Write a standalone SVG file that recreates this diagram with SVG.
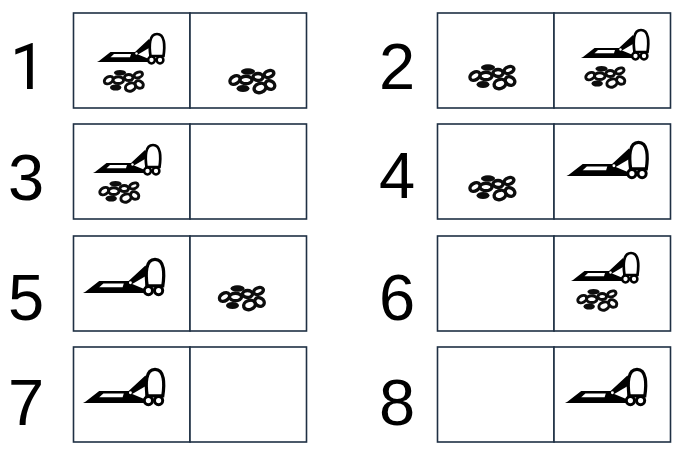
<svg xmlns="http://www.w3.org/2000/svg" width="684" height="454" viewBox="0 0 684 454">
<style>
text{font-family:"Liberation Sans",Arial,sans-serif;font-size:65px;fill:#000}
.one{font-family:Roboto,"Liberation Sans",sans-serif;font-size:64px}
.b{fill:#fff;stroke:#1f3044;stroke-width:1.6}
.d{fill:#fff;stroke:#0a0a0a;stroke-width:3.400}
.k{fill:#0a0a0a}
.s{filter:url(#soft)}
</style>
<defs>
<filter id="soft" x="-10%" y="-10%" width="120%" height="120%"><feGaussianBlur stdDeviation="0.4"/></filter>
<g id="vac">
<path d="M0 0 L2 -1 L13.500 -10 L38 -10 L52 -23 L55 -18 L55 -3 L52 0 Z" fill="#000"/>
<path d="M17 -8 L34 -8 L33 -4.800 L13.500 -4.800 Z" fill="#fff"/>
<path d="M41 -7.500 L52 -14 L52 -3 Z" fill="#fff"/>
<circle cx="39.500" cy="-8.500" r="1.200" fill="#fff"/>
<path d="M53.500 -6 C52 -16 52 -28 60 -28 C68 -28 68 -16 66.500 -6 Z" fill="#fff" stroke="#000" stroke-width="2.700"/>
<circle cx="54.500" cy="-2" r="3.400" fill="#fff" stroke="#000" stroke-width="2.500"/>
<circle cx="63" cy="-2" r="3.400" fill="#fff" stroke="#000" stroke-width="2.500"/>
</g>
<g id="dirt">
<ellipse class="d" cx="-17" cy="-1" rx="5.500" ry="3.800" transform="rotate(-30 -17 -1)"/>
<ellipse class="k" cx="-4" cy="-9.500" rx="7" ry="3.200"/>
<ellipse class="d" cx="-6" cy="-1" rx="6" ry="3.800"/>
<ellipse class="d" cx="6" cy="-4" rx="5" ry="3.500"/>
<ellipse class="d" cx="17" cy="-7" rx="5" ry="3.200" transform="rotate(-20 17 -7)"/>
<ellipse class="k" cx="-9" cy="7.500" rx="6.500" ry="3.500"/>
<ellipse class="d" cx="18" cy="4" rx="5" ry="4" transform="rotate(30 18 4)"/>
<ellipse class="d" cx="8" cy="7" rx="6" ry="4.500" transform="rotate(-20 8 7)"/>
</g>
</defs>
<g id="n1"><rect class="b" x="73.500" y="13" width="116.500" height="95"/><rect class="b" x="190" y="13" width="116.500" height="95"/><text class="one" x="10" y="89">1</text><use class="s" href="#vac" x="97" y="62"/><use class="s" href="#dirt" transform="translate(123.500 81) scale(.87)"/><use class="s" href="#dirt" x="252" y="81"/></g>
<g id="n2"><rect class="b" x="437.500" y="13" width="116.500" height="95"/><rect class="b" x="554" y="13" width="116.500" height="95"/><text x="379" y="89">2</text><use class="s" href="#dirt" x="492" y="77"/><use class="s" href="#vac" x="581" y="58"/><use class="s" href="#dirt" transform="translate(605 77) scale(.87)"/></g>
<g id="n3"><rect class="b" x="73.500" y="124" width="116.500" height="95"/><rect class="b" x="190" y="124" width="116.500" height="95"/><text x="8" y="200">3</text><use class="s" href="#vac" x="93" y="173"/><use class="s" href="#dirt" transform="translate(119 192) scale(.87)"/></g>
<g id="n4"><rect class="b" x="437.500" y="124" width="116.500" height="95"/><rect class="b" x="554" y="124" width="116.500" height="95"/><text x="379" y="198">4</text><use class="s" href="#dirt" x="492" y="188"/><use class="s" href="#vac" transform="translate(566.500 176) scale(1.200)"/></g>
<g id="n5"><rect class="b" x="73.500" y="236" width="116.500" height="95"/><rect class="b" x="190" y="236" width="116.500" height="95"/><text x="8" y="320">5</text><use class="s" href="#vac" transform="translate(83 293) scale(1.200)"/><use class="s" href="#dirt" x="241.500" y="298"/></g>
<g id="n6"><rect class="b" x="437.500" y="236" width="116.500" height="95"/><rect class="b" x="554" y="236" width="116.500" height="95"/><text x="379" y="320">6</text><use class="s" href="#vac" x="571" y="281"/><use class="s" href="#dirt" transform="translate(597 300) scale(.87)"/></g>
<g id="n7"><rect class="b" x="73.500" y="347" width="116.500" height="95"/><rect class="b" x="190" y="347" width="116.500" height="95"/><text x="8" y="425">7</text><use class="s" href="#vac" transform="translate(83 403) scale(1.200)"/></g>
<g id="n8"><rect class="b" x="437.500" y="347" width="116.500" height="95"/><rect class="b" x="554" y="347" width="116.500" height="95"/><text x="379" y="425">8</text><use class="s" href="#vac" transform="translate(565 403) scale(1.200)"/></g>
<g id="connectors"/>
</svg>
